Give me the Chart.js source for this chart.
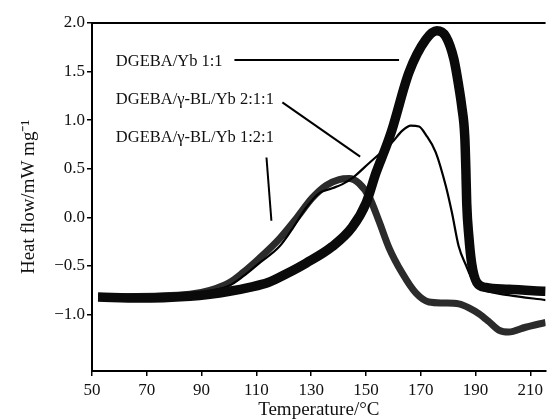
<!DOCTYPE html>
<html>
<head>
<meta charset="utf-8">
<script src="https://cdn.jsdelivr.net/npm/chart.js@4.4.1/dist/chart.umd.min.js"></script>
<style>
html,body{margin:0;padding:0;background:#fff;}
#wrap{width:547px;height:419px;position:relative;}
</style>
</head>
<body>
<div id="wrap"><canvas id="c" width="547" height="419"></canvas></div>
<script>
// ---- data (temperature °C, heat flow mW/mg) ----
const xTickValues = [50, 70, 90, 110, 130, 150, 170, 190, 210];
const yTickValues = [-1.0, -0.5, 0.0, 0.5, 1.0, 1.5, 2.0];

const s1Temp = [52.2, 67.5, 85.7, 93.0, 100.2, 107.5, 114.3, 121.0, 128.2, 137.7, 145.0, 150.1, 153.7, 157.4, 159.5, 165.7, 171.9, 175.9, 179.2, 182.1, 183.9, 185.0, 186.1, 186.5, 186.8, 187.6, 188.6, 190.5, 193.7, 202.1, 215.6];
const s1Flow = [-0.82, -0.83, -0.81, -0.79, -0.76, -0.72, -0.67, -0.58, -0.47, -0.30, -0.10, 0.15, 0.46, 0.73, 0.90, 1.49, 1.83, 1.92, 1.86, 1.63, 1.35, 1.14, 0.83, 0.49, 0.15, -0.20, -0.47, -0.67, -0.72, -0.74, -0.76];

const s2Temp = [52.2, 85.7, 93.0, 100.2, 105.0, 111.1, 118.4, 123.1, 128.2, 133.0, 137.7, 141.3, 145.7, 151.2, 154.8, 159.5, 163.2, 166.4, 169.4, 171.9, 175.5, 179.2, 181.4, 183.9, 186.5, 189.4, 193.7, 202.1, 215.6];
const s2Flow = [-0.82, -0.80, -0.76, -0.70, -0.61, -0.47, -0.30, -0.12, 0.10, 0.25, 0.30, 0.34, 0.42, 0.56, 0.65, 0.77, 0.89, 0.945, 0.935, 0.85, 0.67, 0.32, 0.05, -0.30, -0.49, -0.67, -0.75, -0.80, -0.85];

const s3Temp = [52.2, 85.7, 93.0, 100.2, 105.0, 111.1, 118.4, 124.6, 130.4, 135.5, 140.2, 143.9, 147.5, 151.2, 154.8, 158.4, 163.2, 168.3, 173.0, 178.5, 183.9, 187.6, 191.2, 194.8, 198.5, 202.1, 208.3, 215.6];
const s3Flow = [-0.82, -0.79, -0.75, -0.67, -0.57, -0.42, -0.22, -0.01, 0.20, 0.33, 0.39, 0.40, 0.35, 0.21, -0.04, -0.31, -0.57, -0.78, -0.87, -0.88, -0.89, -0.93, -0.99, -1.07, -1.16, -1.18, -1.13, -1.08];

const seriesNames = ['DGEBA/Yb 1:1', 'DGEBA/γ-BL/Yb 2:1:1', 'DGEBA/γ-BL/Yb 1:2:1'];

// annotation labels (data coordinates) and pointer lines
const labelTemp = [58.7, 58.7, 58.7];
const labelFlow = [1.605, 1.213, 0.821];
const pointerFrom = [[102.0, 1.62], [119.5, 1.183], [113.7, 0.616]];
const pointerTo   = [[162.1, 1.62], [147.9, 0.626], [115.5, -0.034]];

const toXY = (xs, ys) => xs.map((x, i) => ({x: x, y: ys[i]}));
const FONT = "'Liberation Serif', 'Times New Roman', serif";

const annotPlugin = {
  id: 'annot',
  afterDraw(chart) {
    const ctx = chart.ctx, xs = chart.scales.x, ys = chart.scales.y, ca = chart.chartArea;
    ctx.save();
    // top frame line
    ctx.strokeStyle = '#000';
    ctx.lineWidth = 2;
    ctx.beginPath();
    ctx.moveTo(ca.left, ca.top);
    ctx.lineTo(ca.right, ca.top);
    ctx.stroke();
    // labels
    ctx.fillStyle = '#111';
    ctx.font = '16.5px ' + FONT;
    ctx.textBaseline = 'middle';
    ctx.textAlign = 'left';
    seriesNames.forEach((n, i) => {
      ctx.fillText(n, xs.getPixelForValue(labelTemp[i]), ys.getPixelForValue(labelFlow[i]));
    });
    ctx.lineWidth = 2;
    ctx.strokeStyle = '#000';
    pointerFrom.forEach((p, i) => {
      ctx.beginPath();
      ctx.moveTo(xs.getPixelForValue(p[0]), ys.getPixelForValue(p[1]));
      ctx.lineTo(xs.getPixelForValue(pointerTo[i][0]), ys.getPixelForValue(pointerTo[i][1]));
      ctx.stroke();
    });
    ctx.restore();
  }
};

new Chart(document.getElementById('c'), {
  type: 'line',
  data: {
    datasets: [
      {label: seriesNames[0], data: toXY(s1Temp, s1Flow), borderColor: '#0a0a0a', borderWidth: 9.5,
       pointRadius: 0, cubicInterpolationMode: 'monotone', fill: false},
      {label: seriesNames[1], data: toXY(s2Temp, s2Flow), borderColor: '#000', borderWidth: 2.2,
       pointRadius: 0, cubicInterpolationMode: 'monotone', fill: false},
      {label: seriesNames[2], data: toXY(s3Temp, s3Flow), borderColor: '#2b2b2b', borderWidth: 7,
       pointRadius: 0, cubicInterpolationMode: 'monotone', fill: false}
    ]
  },
  options: {
    responsive: false,
    animation: false,
    devicePixelRatio: 1,
    layout: {padding: {top: 23, right: 0, bottom: 0, left: 0}},
    plugins: {legend: {display: false}, tooltip: {enabled: false}},
    scales: {
      x: {
        type: 'linear', min: 50, max: 215.6,
        afterBuildTicks(s) { s.ticks = xTickValues.map(v => ({value: v})); },
        afterFit(s) { s.height = 48; },
        grid: {display: true, drawOnChartArea: false, drawTicks: true, tickLength: 5, color: '#000', lineWidth: 1.5},
        border: {display: true, color: '#000', width: 2},
        ticks: {color: '#111', font: {family: FONT, size: 17}, padding: 4, maxRotation: 0, autoSkip: false},
        title: {display: true, text: 'Temperature/°C', color: '#111', font: {family: FONT, size: 19}, padding: {top: 0, bottom: -2}}
      },
      y: {
        type: 'linear', min: -1.58, max: 2.0,
        afterBuildTicks(s) { s.ticks = yTickValues.map(v => ({value: v})); },
        afterFit(s) { s.width = 92; },
        grid: {display: true, drawOnChartArea: false, drawTicks: true, tickLength: 5, color: '#000', lineWidth: 1.5},
        border: {display: true, color: '#000', width: 2},
        ticks: {color: '#111', font: {family: FONT, size: 17}, padding: 2,
                callback: v => (v < 0 ? '\u2212' : '') + Math.abs(v).toFixed(1)},
        title: {display: true, text: 'Heat flow/mW mg\u207B\u00B9', color: '#111', font: {family: FONT, size: 19}, padding: {top: 18, bottom: 0}}
      }
    }
  },
  plugins: [annotPlugin]
});
</script>
</body>
</html>
